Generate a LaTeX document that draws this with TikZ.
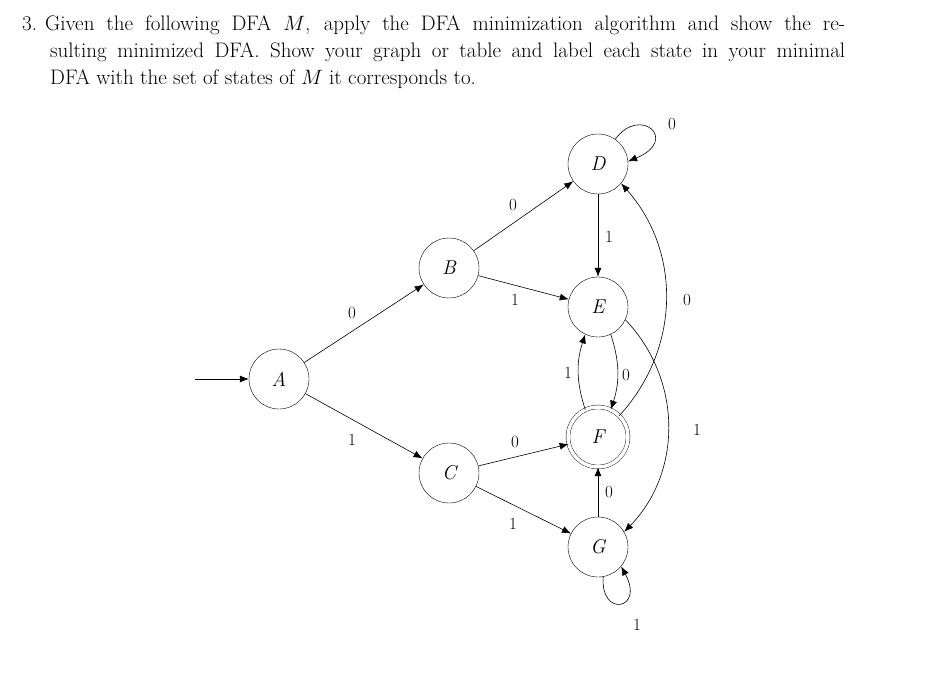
\documentclass[tikz,border=0pt]{standalone}
\usetikzlibrary{arrows.meta}
\begin{document}
\begin{tikzpicture}[x=1pt,y=-1pt,
  st/.style={circle,draw,minimum size=60pt,inner sep=0pt,font=\fontsize{20}{20}\selectfont\itshape},
  acc/.style={st,double,double distance=3.5pt},
  tr/.style={-{Latex[length=9pt,width=7pt]},line width=0.6pt},
  lb/.style={font=\fontsize{17}{17}\selectfont}]
\useasboundingbox (0,0) rectangle (946,674);
\node[anchor=north west,inner sep=0pt] (txt) at (22,15)
 {\begin{minipage}{823pt}\fontsize{21}{27}\selectfont\parindent=0pt
 \hangindent=28pt\hangafter=1
 3.\hspace{8pt}Given the following DFA $M$, apply the DFA minimization algorithm and show the re-\linebreak
 sulting minimized DFA. Show your graph or table and label each state in your minimal\linebreak
 DFA with the set of states of $M$ it corresponds to.\end{minipage}};
\node[st] (A) at (279,379) {A};
\node[st] (B) at (449,268) {B};
\node[st] (C) at (449,473) {C};
\node[st] (D) at (598,164) {D};
\node[st] (E) at (598,307) {E};
\node[acc] (F) at (598,437) {F};
\node[st] (G) at (598,547) {G};
\coordinate (s) at (195,379);
\draw[tr] (s) -- (A);
\draw[tr] (A) -- (B);
\draw[tr] (A) -- (C);
\draw[tr] (B) -- (D);
\draw[tr] (B) -- (E);
\draw[tr] (C) -- (F);
\draw[tr] (C) -- (G);
\draw[tr] (D) -- (E);
\draw[tr] (G) -- (F);
\draw[tr] (E.-65) to[bend left=18] (F.65);
\draw[tr] (F.115) to[bend left=18] (E.-115);
\draw[tr] (F.45) to[bend right=42] (D.-40);
\draw[tr] (E.-25) to[bend left=44] (G.30);
\draw[tr] (D.55) .. controls (640,105) and (680,140) .. (D.5);
\draw[tr] (G.-80) .. controls (600,618) and (645,610) .. (G.-40);
\node[lb] (l1) at (352,313) {0};
\node[lb] (l2) at (352,440) {1};
\node[lb] (l3) at (513,205) {0};
\node[lb] (l4) at (515,300) {1};
\node[lb] (l5) at (515,442) {0};
\node[lb] (l6) at (513,524) {1};
\node[lb] (l7) at (609,237) {1};
\node[lb] (l8) at (672,124) {0};
\node[lb] (l9) at (626,375) {0};
\node[lb] (l10) at (568,373) {1};
\node[lb] (l11) at (687,300) {0};
\node[lb] (l12) at (697,430) {1};
\node[lb] (l13) at (609,492) {0};
\node[lb] (l14) at (637,625) {1};
\end{tikzpicture}
\end{document}
